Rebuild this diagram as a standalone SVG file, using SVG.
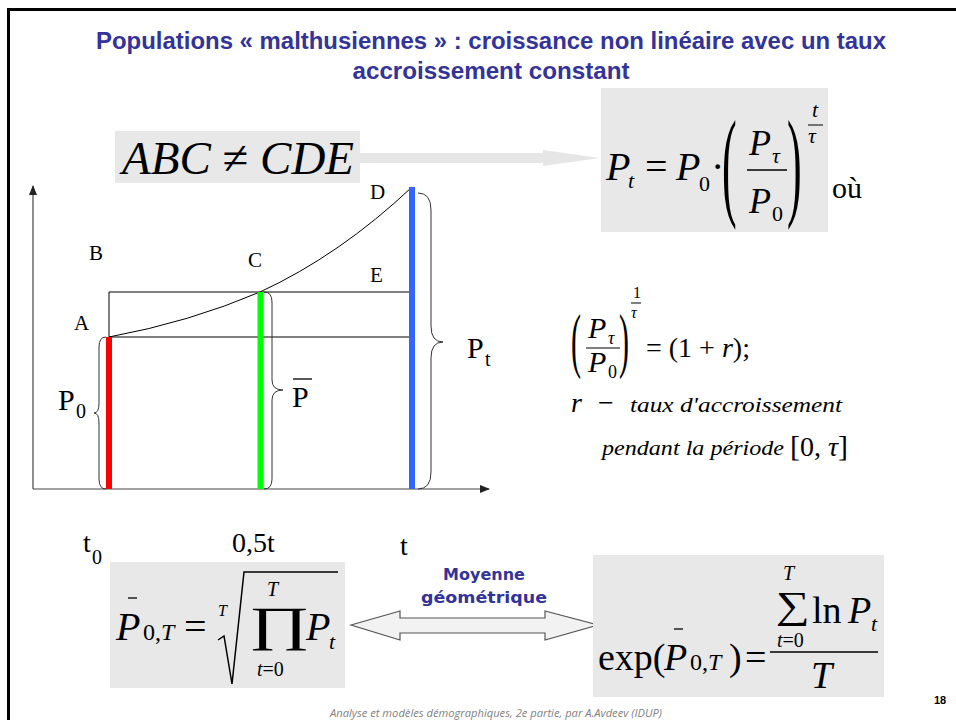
<svg xmlns="http://www.w3.org/2000/svg" width="956" height="720" viewBox="0 0 956 720">
<style>
.m{font-family:"Liberation Serif","Times New Roman",serif;fill:#000}
.i{font-style:italic}
.title{font-family:"Liberation Sans",Arial,sans-serif;font-weight:bold;font-size:23px;fill:#333399}
.box{fill:#e8e8e8}
.thin{stroke:#000;stroke-width:1;fill:none}
.axis{stroke:#444;stroke-width:1.2;fill:none}
.brace{stroke:#333;stroke-width:1;fill:none}
.lbl{font-family:"Liberation Serif","Times New Roman",serif;font-size:21px;fill:#000}
.blue{font-family:"DejaVu Sans",Verdana,sans-serif;font-weight:bold;font-size:16px;fill:#333399}
</style>
<defs>
<marker id="ah" markerWidth="10" markerHeight="8" refX="9" refY="4" orient="auto" markerUnits="userSpaceOnUse">
<path d="M0,0 L10,4 L0,8 Z" fill="#222"/>
</marker>
</defs>
<rect width="956" height="720" fill="#fff"/>
<g id="frame">
<line x1="8.5" y1="8" x2="8.5" y2="720" stroke="#000" stroke-width="3"/>
<line x1="7" y1="9.5" x2="956" y2="9.5" stroke="#000" stroke-width="3"/>
</g>
<g id="title">
<text class="title" x="491" y="49" text-anchor="middle" textLength="790" lengthAdjust="spacingAndGlyphs">Populations « malthusiennes » : croissance non linéaire avec un taux</text>
<text class="title" x="491" y="79" text-anchor="middle" textLength="277" lengthAdjust="spacingAndGlyphs">accroissement constant</text>
</g>
<g id="connectors">
<path d="M360,153 L543,153 L543,150 L600,158 L543,166 L543,163 L360,163 Z" fill="#e6e6e6"/>
<path d="M351,625 L400,611 L400,618 L545,618 L545,611 L598,625 L545,640 L545,633 L400,633 L400,640 Z" fill="#f2f2f2" stroke="#555" stroke-width="1.2"/>
</g>
<g id="abc">
<rect class="box" x="115" y="131" width="245" height="52"/>
<text class="m i" x="122" y="174" font-size="47">ABC <tspan font-style="normal">≠</tspan> CDE</text>
</g>
<g id="formula-pt">
<rect class="box" x="601" y="88" width="227" height="144"/>
<text class="m i" x="606" y="180" font-size="40">P</text>
<text class="m i" x="628" y="188" font-size="22">t</text>
<text class="m" x="645" y="180" font-size="40">=</text>
<text class="m i" x="676" y="180" font-size="40">P</text>
<text class="m" x="699" y="191" font-size="22">0</text>
<text class="m" x="711" y="180" font-size="40">·</text>
<text class="m" transform="translate(722,204) scale(1,2.75)" font-size="44">(</text>
<text class="m i" x="749" y="155" font-size="36">P</text>
<text class="m i" x="772" y="163" font-size="22">τ</text>
<line x1="747" y1="170" x2="787" y2="170" stroke="#000" stroke-width="1.5"/>
<text class="m i" x="749" y="213" font-size="36">P</text>
<text class="m" x="772" y="221" font-size="22">0</text>
<text class="m" transform="translate(787,204) scale(1,2.75)" font-size="44">)</text>
<text class="m i" x="812" y="117" font-size="22">t</text>
<line x1="808" y1="125" x2="823" y2="125" stroke="#000" stroke-width="1"/>
<text class="m i" x="808" y="143" font-size="22">τ</text>
<text class="m" x="832" y="198" font-size="30">où</text>
</g>
<g id="graph">
<line class="axis" x1="33" y1="489" x2="33" y2="186" marker-end="url(#ah)"/>
<line class="axis" x1="33" y1="489" x2="489" y2="489" marker-end="url(#ah)"/>
<line class="thin" x1="109" y1="292" x2="412" y2="292"/>
<line class="thin" x1="109" y1="337" x2="412" y2="337"/>
<line class="thin" x1="109" y1="292" x2="109" y2="337"/>
<path class="thin" d="M109,337 Q190,322 260,292 Q340,255 412,187"/>
<line x1="109" y1="337" x2="109" y2="489" stroke="#ff0000" stroke-width="6"/>
<line x1="260.5" y1="292" x2="260.5" y2="489" stroke="#00ff00" stroke-width="6"/>
<line x1="412" y1="187" x2="412" y2="489" stroke="#3366ff" stroke-width="6"/>
<path class="brace" d="M106,337 Q99,337 99,347 L99,403 Q99,413 94,413 Q99,413 99,423 L99,479 Q99,489 106,489"/>
<path class="brace" d="M264,292 Q272,292 272,302 L272,380 Q272,390 283,390 Q272,390 272,400 L272,479 Q272,489 264,489"/>
<path class="brace" d="M418,193 Q431,193 431,210 L431,326 Q431,342 443,342 Q431,342 431,358 L431,472 Q431,489 418,489"/>
<text class="lbl" x="89" y="260">B</text>
<text class="lbl" x="248" y="267">C</text>
<text class="lbl" x="370" y="199">D</text>
<text class="lbl" x="370" y="282">E</text>
<text class="lbl" x="74" y="330">A</text>
<text class="m" x="58" y="410" font-size="30">P</text>
<text class="m" x="76" y="418" font-size="20">0</text>
<text class="m" x="292" y="407" font-size="30">P</text>
<line x1="293" y1="379" x2="312" y2="379" stroke="#000" stroke-width="1.3"/>
<text class="m" x="467" y="358" font-size="30">P</text>
<text class="m" x="485" y="366" font-size="20">t</text>
<text class="m" x="83" y="552" font-size="28">t</text>
<text class="m" x="92" y="564" font-size="20">0</text>
<text class="m" x="232" y="552" font-size="28">0,5t</text>
<text class="m" x="400" y="555" font-size="28">t</text>
</g>
<g id="formula-r">
<text class="m" transform="translate(571,364) scale(1,2.4)" font-size="30">(</text>
<text class="m i" x="588" y="338" font-size="30">P</text>
<text class="m i" x="608" y="344" font-size="18">τ</text>
<line x1="586" y1="348" x2="620" y2="348" stroke="#000" stroke-width="1.2"/>
<text class="m i" x="588" y="372" font-size="30">P</text>
<text class="m" x="608" y="378" font-size="18">0</text>
<text class="m" transform="translate(619,364) scale(1,2.4)" font-size="30">)</text>
<text class="m" x="633" y="298" font-size="16">1</text>
<line x1="631" y1="303" x2="641" y2="303" stroke="#000" stroke-width="1"/>
<text class="m i" x="631" y="318" font-size="16">τ</text>
<text class="m" x="646" y="357" font-size="28">= (1 + <tspan font-style="italic">r</tspan>);</text>
<text class="m i" x="571" y="412" font-size="28">r</text>
<text class="m" x="598" y="412" font-size="28">−</text>
<text class="m i" x="630" y="412" font-size="22" textLength="212" lengthAdjust="spacingAndGlyphs">taux d'accroissement</text>
<text class="m i" x="602" y="455" font-size="22" textLength="182" lengthAdjust="spacingAndGlyphs">pendant la période</text>
<text class="m" x="790" y="456" font-size="30">[<tspan font-size="28">0, </tspan><tspan font-size="28" font-style="italic">τ</tspan>]</text>
</g>
<g id="formula-geo">
<rect class="box" x="110" y="562" width="235" height="126"/>
<text class="m i" x="116" y="640" font-size="40">P</text>
<line x1="128" y1="598" x2="137" y2="598" stroke="#000" stroke-width="1.3"/>
<text class="m" x="143" y="640" font-size="24">0,<tspan font-style="italic">T</tspan></text>
<text class="m" x="184" y="640" font-size="40">=</text>
<text class="m i" x="218" y="616" font-size="16">T</text>
<path d="M218,640 L224,636 L232,684 L244,572 L338,572" fill="none" stroke="#000" stroke-width="1.5"/>
<text class="m" transform="translate(249,640) scale(1.55,1)" font-size="48">∏</text>
<text class="m i" x="267" y="596" font-size="20">T</text>
<text class="m" x="257" y="676" font-size="20"><tspan font-style="italic">t</tspan>=0</text>
<text class="m i" x="306" y="640" font-size="40">P</text>
<text class="m i" x="329" y="649" font-size="22">t</text>
</g>
<g id="label-moyenne">
<text class="blue" x="484" y="580" text-anchor="middle">Moyenne</text>
<text class="blue" x="484" y="603" text-anchor="middle" textLength="126" lengthAdjust="spacingAndGlyphs">géométrique</text>
</g>
<g id="formula-exp">
<rect class="box" x="593" y="555" width="291" height="142"/>
<text class="m" x="598" y="670" font-size="38">exp(</text>
<text class="m i" x="664" y="670" font-size="38">P</text>
<line x1="674" y1="629" x2="683" y2="629" stroke="#000" stroke-width="1.3"/>
<text class="m" x="690" y="670" font-size="24">0,<tspan font-style="italic">T</tspan></text>
<text class="m" x="729" y="670" font-size="38">)</text>
<text class="m" x="745" y="670" font-size="38">=</text>
<line x1="770" y1="652" x2="878" y2="652" stroke="#000" stroke-width="1.3"/>
<text class="m i" x="783" y="580" font-size="20">T</text>
<text class="m" transform="translate(776,618) scale(1.25,1)" font-size="38">∑</text>
<text class="m" x="777" y="647" font-size="20"><tspan font-style="italic">t</tspan>=0</text>
<text class="m" x="812" y="623" font-size="38">ln</text>
<text class="m i" x="848" y="623" font-size="38">P</text>
<text class="m i" x="871" y="631" font-size="22">t</text>
<text class="m i" x="811" y="688" font-size="38">T</text>
</g>
<g id="footer">
<text x="496" y="717" text-anchor="middle" font-family="'Open Sans','Liberation Sans',sans-serif" font-style="italic" font-size="11" fill="#7f7f7f" textLength="332" lengthAdjust="spacingAndGlyphs">Analyse et modèles démographiques, 2e partie, par A.Avdeev (IDUP)</text>
<text x="940" y="704" text-anchor="middle" font-family="'Liberation Sans',Arial,sans-serif" font-weight="bold" font-size="11" fill="#000">18</text>
</g>
</svg>
